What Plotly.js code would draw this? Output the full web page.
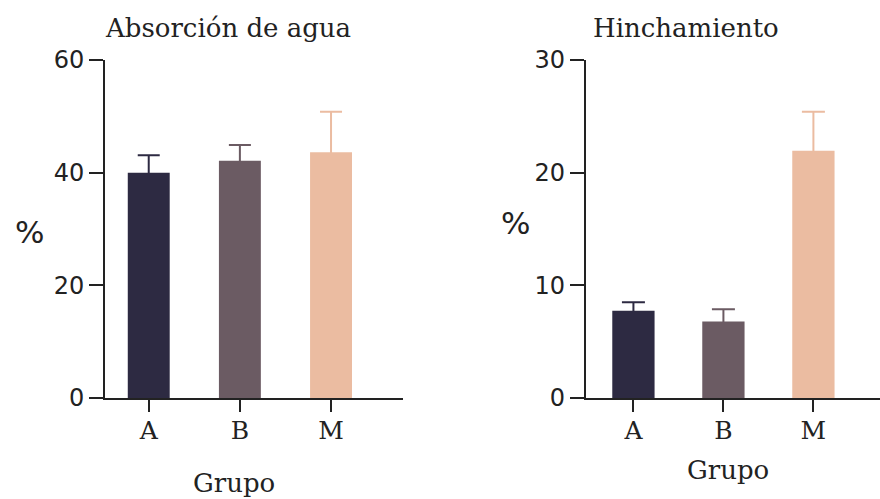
<!DOCTYPE html>
<html>
<head>
<meta charset="utf-8">
<script src="https://cdn.plot.ly/plotly-3.0.1.min.js"></script>
<style>html,body{margin:0;padding:0;background:#fff;}#chart{width:880px;height:499px;}</style>
</head>
<body>
<div id="chart"></div>
<script>
const groups = ["A", "B", "M"];
const absorcion = [40.0, 42.1, 43.6];
const absorcionErr = [3.1, 2.8, 7.2];
const hinchamiento = [7.75, 6.8, 21.95];
const hinchamientoErr = [0.74, 1.07, 3.45];
const colors = ["#2d2a42", "#6b5b63", "#ebbca1"];
const yTicksLeft = [0, 20, 40, 60];
const yTicksRight = [0, 10, 20, 30];

// the lower end of each error bar is tucked inside the bar (hidden) so only the upper whisker shows
const hideLeft = 1.0, hideRight = 0.5;

const traces = [];
groups.forEach((g, i) => {
  traces.push({
    type: "bar", x: [g], y: [absorcion[i]], xaxis: "x", yaxis: "y",
    marker: {color: "rgba(0,0,0,0)"}, width: 0.46, showlegend: false,
    error_y: {type: "data", symmetric: false, array: [absorcionErr[i]], arrayminus: [hideLeft], color: colors[i], thickness: 2, width: 11}
  });
  traces.push({
    type: "bar", x: [g], y: [hinchamiento[i]], xaxis: "x2", yaxis: "y2",
    marker: {color: "rgba(0,0,0,0)"}, width: 0.47, showlegend: false,
    error_y: {type: "data", symmetric: false, array: [hinchamientoErr[i]], arrayminus: [hideRight], color: colors[i], thickness: 2, width: 11.5}
  });
});
groups.forEach((g, i) => {
  traces.push({
    type: "bar", x: [g], y: [absorcion[i]], xaxis: "x", yaxis: "y",
    marker: {color: colors[i]}, width: 0.46, showlegend: false
  });
  traces.push({
    type: "bar", x: [g], y: [hinchamiento[i]], xaxis: "x2", yaxis: "y2",
    marker: {color: colors[i]}, width: 0.47, showlegend: false
  });
});

const axColor = "#222";
const sans = "DejaVu Sans";
const serif = "DejaVu Serif";
const xBase = {
  type: "category", categoryorder: "array", categoryarray: groups,
  showline: true, linecolor: axColor, linewidth: 2, ticks: "outside", ticklen: 12, tickwidth: 2, tickcolor: axColor,
  showgrid: false, zeroline: false, fixedrange: true, ticklabelstandoff: -3,
  tickfont: {family: serif, size: 25, color: axColor}
};
const yBase = {
  showline: true, linecolor: axColor, linewidth: 2, ticks: "outside", ticklen: 14, tickwidth: 2, tickcolor: axColor,
  showgrid: false, zeroline: false, fixedrange: true,
  tickfont: {family: sans, size: 24, color: axColor}, domain: [0.2024, 0.8798]
};

const layout = {
  width: 880, height: 499,
  margin: {l: 0, r: 0, t: 0, b: 0},
  paper_bgcolor: "#fff", plot_bgcolor: "#fff",
  barmode: "overlay",
  xaxis: Object.assign({}, xBase, {domain: [0.1193, 0.458], range: [-0.48, 2.79], anchor: "y"}),
  yaxis: Object.assign({}, yBase, {range: [0, 60], tickvals: yTicksLeft, anchor: "x"}),
  xaxis2: Object.assign({}, xBase, {domain: [0.6656, 1], range: [-0.53, 2.74], anchor: "y2"}),
  yaxis2: Object.assign({}, yBase, {range: [0, 30], tickvals: yTicksRight, anchor: "x2"}),
  annotations: [
    {text: "Absorción de agua", xref: "paper", yref: "paper", x: 228/880, y: 1 - 28/499, xanchor: "center", yanchor: "middle", showarrow: false, font: {family: serif, size: 26, color: axColor}},
    {text: "Hinchamiento", xref: "paper", yref: "paper", x: 686/880, y: 1 - 28/499, xanchor: "center", yanchor: "middle", showarrow: false, font: {family: serif, size: 26, color: axColor}},
    {text: "%", xref: "paper", yref: "paper", x: 30/880, y: 1 - 232/499, xanchor: "center", yanchor: "middle", showarrow: false, font: {family: sans, size: 31, color: axColor}},
    {text: "%", xref: "paper", yref: "paper", x: 515/880, y: 1 - 223/499, xanchor: "center", yanchor: "middle", showarrow: false, font: {family: sans, size: 31, color: axColor}},
    {text: "Grupo", xref: "paper", yref: "paper", x: 234/880, y: 0, xanchor: "center", yanchor: "bottom", showarrow: false, borderpad: 0, font: {family: serif, size: 26, color: axColor}},
    {text: "Grupo", xref: "paper", yref: "paper", x: 727.5/880, y: 1 - 470/499, xanchor: "center", yanchor: "middle", showarrow: false, font: {family: serif, size: 26, color: axColor}}
  ]
};

Plotly.newPlot("chart", traces, layout, {displayModeBar: false, staticPlot: true});
</script>
</body>
</html>
